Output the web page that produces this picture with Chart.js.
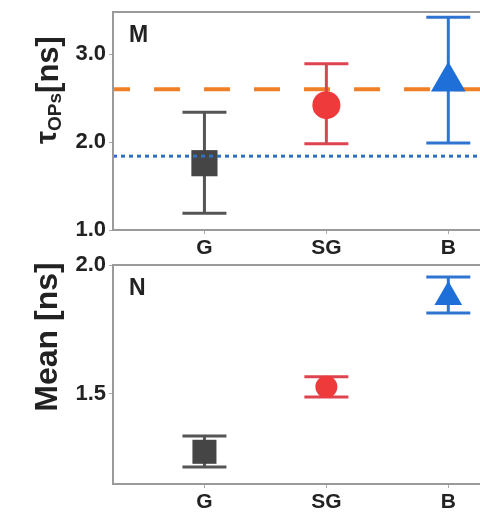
<!DOCTYPE html>
<html>
<head>
<meta charset="utf-8">
<script src="https://cdn.jsdelivr.net/npm/chart.js@4"></script>
<style>
  html, body { margin: 0; padding: 0; background: #fff; overflow: hidden; }
  .panel { position: absolute; left: 0; width: 480px; height: 256px; }
  #panelM { top: 0; }
  #panelN { top: 256px; }
</style>
</head>
<body>
<div class="panel" id="panelM"><canvas id="chartM"></canvas></div>
<div class="panel" id="panelN"><canvas id="chartN"></canvas></div>
<script>
const categories = ["G", "SG", "B"]

// panel M: tau_OPs [ns]
const tauValues = [1.76, 2.42, 2.69]
const tauLow = [1.19, 1.98, 1.99]
const tauHigh = [2.34, 2.89, 3.42]
const tauTicks = [1.0, 2.0, 3.0]
const refOrange = 2.6
const refBlue = 1.84

// panel N: Mean [ns]
const meanValues = [1.275, 1.527, 1.876]
const meanLow = [1.216, 1.488, 1.814]
const meanHigh = [1.336, 1.566, 1.953]
const meanTicks = [1.5, 2.0]

const markerColors = ["#454545", "#ee3a3a", "#1f6fd8"]
const barColors = ["#555555", "#de4450", "#2f74d0"]
const markerStyles = ["rect", "circle", "triangle"]

const X_MIN = -0.75
const X_MAX = 2.26
const FONT = "'Liberation Sans', Arial, sans-serif"

function errorDatasets(low, high, capRadius) {
  const sets = []
  categories.forEach((c, i) => {
    sets.push({
      type: "line",
      data: [{ x: i, y: low[i] }, { x: i, y: high[i] }],
      borderColor: barColors[i],
      borderWidth: 3,
      pointRadius: 0,
      order: 2,
    })
    sets.push({
      type: "scatter",
      data: [{ x: i, y: low[i] }, { x: i, y: high[i] }],
      pointStyle: "line",
      pointRadius: capRadius,
      pointBorderColor: barColors[i],
      pointBorderWidth: 3,
      order: 2,
    })
  })
  return sets
}

// frame (left, top, bottom) + panel letter + axis title
function framePlugin(letter, drawTitle) {
  return {
    id: "frame",
    afterDraw(chart) {
      const { ctx, chartArea: a } = chart
      ctx.save()
      ctx.strokeStyle = "#9a9a9a"
      ctx.lineWidth = 2
      ctx.beginPath()
      ctx.moveTo(chart.width + 2, a.top)
      ctx.lineTo(a.left, a.top)
      ctx.lineTo(a.left, a.bottom)
      ctx.lineTo(chart.width + 2, a.bottom)
      ctx.stroke()
      ctx.fillStyle = "#222"
      ctx.font = "bold 23px " + FONT
      ctx.textBaseline = "middle"
      ctx.fillText(letter, a.left + 16, a.top + 24)
      drawTitle(ctx, a)
      ctx.restore()
    },
  }
}

function makeOptions(yMin, yMax, ticks, xHeight, top) {
  return {
    responsive: true,
    maintainAspectRatio: false,
    animation: false,
    layout: { autoPadding: false, padding: { top: top, right: 0, left: 0, bottom: 0 } },
    plugins: { legend: { display: false }, tooltip: { enabled: false } },
    scales: {
      x: {
        type: "linear",
        min: X_MIN,
        max: X_MAX,
        afterBuildTicks: (s) => { s.ticks = categories.map((c, i) => ({ value: i })) },
        afterFit: (s) => {
          s.height = xHeight
          s.paddingLeft = 0
          s.paddingRight = 0
        },
        ticks: {
          callback: (v) => categories[v],
          color: "#222",
          font: { family: FONT, size: 21, weight: "bold" },
          padding: 2,
          maxRotation: 0,
        },
        grid: { drawOnChartArea: false, tickLength: 4, color: "#aaa" },
        border: { display: false },
      },
      y: {
        min: yMin,
        max: yMax,
        afterBuildTicks: (s) => { s.ticks = ticks.map((v) => ({ value: v })) },
        afterFit: (s) => {
          s.width = 113
          s.paddingTop = 0
          s.paddingBottom = 0
        },
        ticks: {
          callback: (v) => v.toFixed(1),
          color: "#222",
          font: { family: FONT, size: 22, weight: "bold" },
          padding: 3,
        },
        grid: { drawOnChartArea: false, tickLength: 4, color: "#aaa" },
        border: { display: false },
      },
    },
  }
}

document.addEventListener("DOMContentLoaded", () => {
  // Panel M
  new Chart(document.getElementById("chartM"), {
    type: "scatter",
    data: {
      datasets: [
        {
          type: "line",
          data: [{ x: X_MIN, y: refBlue }, { x: X_MAX, y: refBlue }],
          borderColor: "#2f6fc6",
          borderWidth: 3,
          borderDash: [4, 4],
          pointRadius: 0,
          order: 0,
        },
        {
          data: tauValues.map((v, i) => ({ x: i, y: v })),
          pointStyle: markerStyles,
          pointRadius: [18.5, 14, 20],
          pointBackgroundColor: markerColors,
          pointBorderWidth: 0,
          order: 1,
        },
        ...errorDatasets(tauLow, tauHigh, 22),
        {
          type: "line",
          data: [{ x: X_MIN, y: refOrange }, { x: X_MAX, y: refOrange }],
          borderColor: "#f08028",
          borderWidth: 4,
          borderDash: [26, 24],
          borderDashOffset: 9,
          pointRadius: 0,
          order: 3,
        },
      ],
    },
    options: makeOptions(1.0, 3.48, tauTicks, 26, 12),
    plugins: [framePlugin("M", (ctx, a) => {
      // rotated title: tau with subscript OPs, then [ns]
      ctx.translate(58, 90)
      ctx.rotate(-Math.PI / 2)
      ctx.fillStyle = "#222"
      ctx.textBaseline = "alphabetic"
      ctx.textAlign = "left"
      const big = "bold 31px " + FONT
      const tau = "bold 29px " + FONT
      const sub = "bold 19px " + FONT
      ctx.font = tau
      const wTau = ctx.measureText("τ").width
      ctx.font = sub
      const wSub = ctx.measureText("OPs").width
      ctx.font = big
      const wNs = ctx.measureText("[ns]").width
      let x = -(wTau + wSub + wNs) / 2
      ctx.font = tau
      ctx.fillText("τ", x, -2)
      x += wTau
      ctx.font = sub
      ctx.fillText("OPs", x, 3)
      x += wSub
      ctx.font = big
      ctx.fillText("[ns]", x, 0)
    })],
  })

  // Panel N
  new Chart(document.getElementById("chartN"), {
    type: "scatter",
    data: {
      datasets: [
        {
          data: meanValues.map((v, i) => ({ x: i, y: v })),
          pointStyle: markerStyles,
          pointRadius: [17, 11, 16],
          pointBackgroundColor: markerColors,
          pointBorderWidth: 0,
          order: 1,
        },
        ...errorDatasets(meanLow, meanHigh, 22),
      ],
    },
    options: makeOptions(1.15, 2.0, meanTicks, 28, 9),
    plugins: [framePlugin("N", (ctx, a) => {
      ctx.translate(57, 81)
      ctx.rotate(-Math.PI / 2)
      ctx.fillStyle = "#222"
      ctx.textAlign = "center"
      ctx.textBaseline = "alphabetic"
      ctx.font = "bold 32px " + FONT
      ctx.fillText("Mean [ns]", 0, 0)
    })],
  })
})
</script>
</body>
</html>
